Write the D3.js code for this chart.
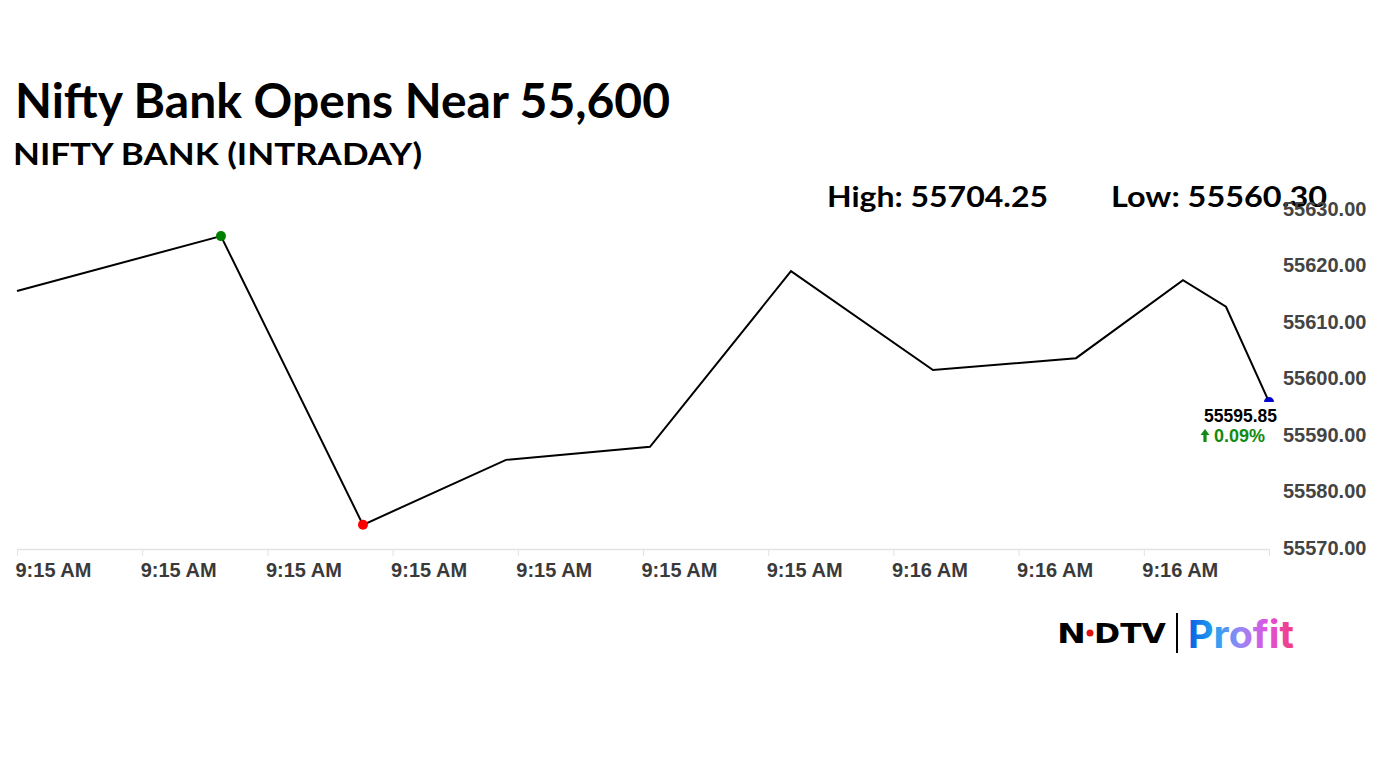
<!DOCTYPE html>
<html>
<head>
<meta charset="utf-8">
<script src="https://cdn.jsdelivr.net/npm/d3@7"></script>
<style>
  html, body { margin: 0; padding: 0; background: #fff; }
  svg { display: block; }
</style>
</head>
<body>
<svg id="chart" width="1382" height="777"></svg>
<script>
// ---- data ----
const title = "Nifty Bank Opens Near 55,600";
const subtitle = "NIFTY BANK (INTRADAY)";
const highText = "High: 55704.25";
const lowText = "Low: 55560.30";
const times = ["09:15:00.000", "09:15:14.320", "09:15:24.290", "09:15:34.330", "09:15:44.440", "09:15:54.340",
               "09:16:04.310", "09:16:14.350", "09:16:21.860", "09:16:24.880", "09:16:27.900"];
const values = [55615.5, 55625.2, 55574.1, 55585.6, 55587.9, 55619.0,
                55601.5, 55603.6, 55617.4, 55612.7, 55595.85];
const xTickLabels = ["9:15 AM", "9:15 AM", "9:15 AM", "9:15 AM", "9:15 AM", "9:15 AM",
                     "9:15 AM", "9:16 AM", "9:16 AM", "9:16 AM", ""];
const yTicks = [55570, 55580, 55590, 55600, 55610, 55620, 55630];
const lastLabel = "55595.85";
const changeLabel = "0.09%";

// ---- layout ----
const svg = d3.select("#chart");
const parse = d3.timeParse("%H:%M:%S.%L");
const dates = times.map(parse);
const data = dates.map((d, i) => ({ t: d, v: values[i] }));

const x = d3.scaleTime().domain([dates[0], dates[dates.length - 1]]).range([17, 1269]);
const y = d3.scaleLinear().domain([55570, 55630]).range([548, 209]);

// titles
function fitText(sel, w) { sel.attr("textLength", w).attr("lengthAdjust", "spacingAndGlyphs"); }
svg.append("text").attr("x", 15).attr("y", 118).text(title)
  .attr("font-family", "Lato, 'Open Sans', sans-serif").attr("font-weight", 700)
  .attr("font-size", 47).attr("fill", "#000").call(fitText, 655);
svg.append("text").attr("x", 13).attr("y", 165).text(subtitle)
  .attr("font-family", "Lato, 'Open Sans', sans-serif").attr("font-weight", 700)
  .attr("font-size", 30).attr("fill", "#000").call(fitText, 409);
svg.append("text").attr("x", 827).attr("y", 207).text(highText)
  .attr("font-family", "Lato, 'Open Sans', sans-serif").attr("font-weight", 700)
  .attr("font-size", 29).attr("fill", "#000").call(fitText, 221);
svg.append("text").attr("x", 1111).attr("y", 207).text(lowText)
  .attr("font-family", "Lato, 'Open Sans', sans-serif").attr("font-weight", 700)
  .attr("font-size", 29).attr("fill", "#000").call(fitText, 216);

// x axis
const span = dates[dates.length - 1] - dates[0];
const xTickVals = d3.range(xTickLabels.length).map(i => new Date(+dates[0] + i * span / (xTickLabels.length - 1)));
const xAxis = d3.axisBottom(x).tickValues(xTickVals).tickSize(7).tickSizeOuter(0)
  .tickFormat((d, i) => xTickLabels[i]);
const gx = svg.append("g").attr("transform", "translate(0,549)").call(xAxis);
gx.select(".domain").attr("stroke", "#e3e3e3").attr("stroke-width", 1.5);
gx.selectAll(".tick line").attr("stroke", "#e3e3e3");
gx.selectAll(".tick text").attr("text-anchor", "start").attr("dx", -2).attr("y", 14).attr("dy", "0.71em")
  .attr("font-family", "'Liberation Sans', Arial, sans-serif").attr("font-weight", 700)
  .attr("font-size", 20).attr("fill", "#3a3a3a");

// y axis (labels only, right side)
const yAxis = d3.axisRight(y).tickValues(yTicks).tickSize(0).tickFormat(d3.format(".2f"));
const gy = svg.append("g").attr("transform", "translate(1283,0)").call(yAxis);
gy.select(".domain").remove();
gy.selectAll(".tick text").attr("x", 0)
  .attr("font-family", "'Liberation Sans', Arial, sans-serif").attr("font-weight", 700)
  .attr("font-size", 20).attr("fill", "#444");

// line
const line = d3.line().x(d => x(d.t)).y(d => y(d.v));
svg.append("path").datum(data).attr("d", line)
  .attr("fill", "none").attr("stroke", "#000").attr("stroke-width", 2).attr("stroke-linejoin", "miter");

// markers: max, min, last
const maxI = d3.maxIndex(values), minI = d3.minIndex(values), lastI = values.length - 1;
[[maxI, "#008000"], [minI, "#ff0000"], [lastI, "#0000cc"]].forEach(([i, c]) => {
  svg.append("circle").attr("cx", x(dates[i])).attr("cy", y(values[i])).attr("r", 5).attr("fill", c);
});

// last value label with white background
const lx = x(dates[lastI]), ly = y(values[lastI]);
svg.append("rect").attr("x", lx - 80).attr("y", ly).attr("width", 92).attr("height", 46).attr("fill", "#fff");
svg.append("text").attr("x", lx + 8).attr("y", ly + 20).attr("text-anchor", "end").text(lastLabel)
  .attr("font-family", "'Liberation Sans', Arial, sans-serif").attr("font-weight", 700)
  .attr("font-size", 17.5).attr("fill", "#000");
// arrow
const ax = lx - 64, ay = ly + 40;
svg.append("path")
  .attr("d", `M${ax},${ay - 13} L${ax + 4.5},${ay - 7} L${ax + 1.6},${ay - 7} L${ax + 1.6},${ay} L${ax - 1.6},${ay} L${ax - 1.6},${ay - 7} L${ax - 4.5},${ay - 7} Z`)
  .attr("fill", "#118a11");
svg.append("text").attr("x", lx - 55).attr("y", ay).attr("text-anchor", "start")
  .attr("font-family", "'Liberation Sans', Arial, sans-serif").attr("font-weight", 700)
  .attr("font-size", 18).attr("fill", "#118a11")
  .text(changeLabel);

// logo
const logo = svg.append("g");
logo.append("text").attr("x", 1057).attr("y", 643).text("N")
  .attr("font-family", "'DejaVu Sans', sans-serif").attr("font-weight", 700)
  .attr("font-size", 27).attr("fill", "#000").call(fitText, 29);
logo.append("circle").attr("cx", 1090).attr("cy", 633).attr("r", 3.5).attr("fill", "#e01010");
logo.append("text").attr("x", 1094).attr("y", 643).text("DTV")
  .attr("font-family", "'DejaVu Sans', sans-serif").attr("font-weight", 700)
  .attr("font-size", 27).attr("fill", "#000").call(fitText, 72);
logo.append("line").attr("x1", 1177).attr("x2", 1177).attr("y1", 613).attr("y2", 653)
  .attr("stroke", "#000").attr("stroke-width", 2);
const grad = svg.append("defs").append("linearGradient").attr("id", "pg")
  .attr("gradientUnits", "userSpaceOnUse").attr("x1", 1188).attr("x2", 1294).attr("y1", 0).attr("y2", 0);
[[0, "#0b5be3"], [0.25, "#22a3ef"], [0.5, "#9a86f6"], [0.75, "#e052e0"], [1, "#f23c76"]].forEach(([o, c]) =>
  grad.append("stop").attr("offset", o).attr("stop-color", c));
logo.append("text").attr("x", 1188).attr("y", 648).text("Profit")
  .attr("font-family", "Inter, Roboto, sans-serif").attr("font-weight", 700)
  .attr("font-size", 38).attr("fill", "url(#pg)").call(fitText, 106);
</script>
</body>
</html>
